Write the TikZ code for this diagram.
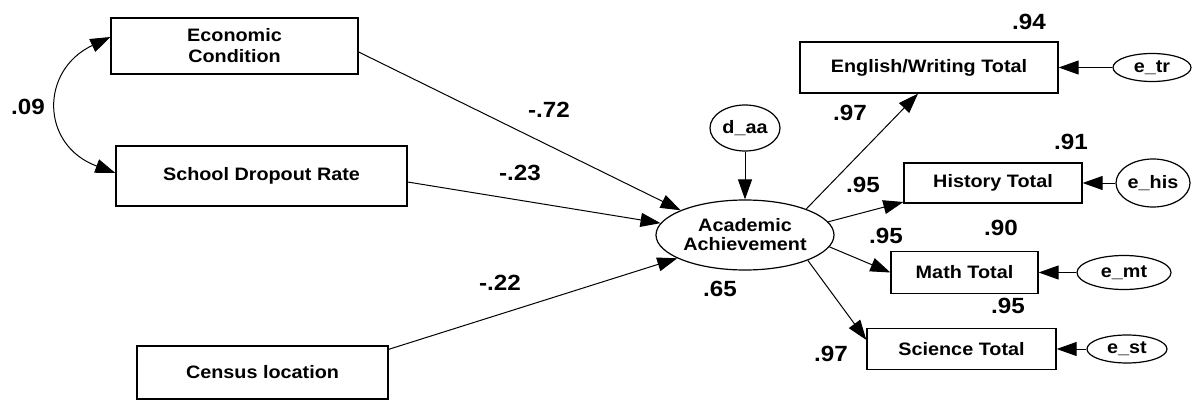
\documentclass[tikz,border=0pt]{standalone}
\usepackage{fontspec}
\setmainfont{Liberation Sans}
\newfontfamily\diagfont[FakeStretch=1.1]{Liberation Sans}
\usetikzlibrary{arrows.meta,calc,shapes.geometric}
\begin{document}
\begin{tikzpicture}[x=1pt,y=-1pt,
  box/.style={draw,line width=1.3pt,rectangle,inner sep=0pt,align=center,font=\diagfont\fontsize{18}{21}\selectfont\bfseries},
  lat/.style={draw,line width=1.2pt,ellipse,inner sep=0pt,align=center,font=\diagfont\fontsize{18}{19}\selectfont\bfseries},
  tip/.style={},
  conn/.style={line width=1pt,-{Triangle[length=20pt,width=14pt]}},
  coef/.style={font=\diagfont\fontsize{22}{22}\selectfont\bfseries,inner sep=0pt}]
\useasboundingbox (0,0) rectangle (1197,401);
% observed variables
\node[box,minimum width=247pt,minimum height=56pt] (econ) at (234.5,46) {Economic\\Condition};
\node[box,minimum width=291pt,minimum height=60pt] (sdr) at (261.5,176) {School Dropout Rate};
\node[box,minimum width=251pt,minimum height=53pt] (census) at (262.5,372.5) {Census location};
\node[box,minimum width=258pt,minimum height=51pt] (eng) at (929,67.5) {English/Writing Total};
\node[box,minimum width=178pt,minimum height=40pt] (hist) at (993,183) {History Total};
\node[box,minimum width=147pt,minimum height=42pt] (math) at (964.5,272.5) {Math Total};
\node[box,minimum width=189pt,minimum height=41pt] (sci) at (961.5,349) {Science Total};
% latent and error
\node[lat,minimum width=178pt,minimum height=70pt] (aa) at (745,235) {Academic\\Achievement};
\node[lat,minimum width=70pt,minimum height=46pt] (daa) at (745,128) {d\_aa};
\node[lat,minimum width=78pt,minimum height=28pt] (etr) at (1152,67.5) {e\_tr};
\node[lat,minimum width=74pt,minimum height=48pt] (ehis) at (1153,183) {e\_his};
\node[lat,minimum width=94pt,minimum height=34pt] (emt) at (1124,272.5) {e\_mt};
\node[lat,minimum width=80pt,minimum height=28pt] (est) at (1127,349) {e\_st};
% correlation
\draw[line width=1pt,{Triangle[length=20pt,width=14pt]}-{Triangle[length=20pt,width=14pt]}]
  ([yshift=9pt]econ.west) .. controls (40,70) and (40,145) .. ([yshift=3pt]sdr.west);
% paths
\draw[conn] ([yshift=-6pt]econ.east) -- (aa.159);
\draw[conn] ([yshift=-6pt]sdr.east) -- (aa.172);
\draw[conn] ([yshift=-4pt]census.north east) -- (aa.199);
\draw[conn] (daa) -- (aa);
\draw[conn] (aa.23) -- ([xshift=-11pt]eng.south);
\draw[conn] (aa.9) -- ([yshift=-19pt]hist.west);
\draw[conn] (aa.-8) -- (math.west);
\draw[conn] (aa.-22) -- ([yshift=9pt]sci.west);
\draw[conn] (etr) -- (eng);
\draw[conn] (ehis) -- (hist);
\draw[conn] (emt) -- (math);
\draw[conn] (est) -- (sci);
% coefficients
\node[coef] (c1) at (28,107) {.09};
\node[coef] (c2) at (549,110) {-.72};
\node[coef] (c3) at (520,173) {-.23};
\node[coef] (c4) at (500,283) {-.22};
\node[coef] (c5) at (720,289) {.65};
\node[coef] (c6) at (850,113) {.97};
\node[coef] (c7) at (1029,22) {.94};
\node[coef] (c8) at (1071,142) {.91};
\node[coef] (c9) at (863,185) {.95};
\node[coef] (c10) at (886,236) {.95};
\node[coef] (c11) at (1001,228) {.90};
\node[coef] (c12) at (1008,306) {.95};
\node[coef] (c13) at (831,354) {.97};
\end{tikzpicture}
\end{document}
